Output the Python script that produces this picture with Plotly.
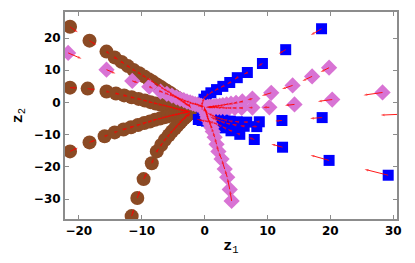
import plotly.graph_objects as go

# ---------------- data ----------------
# brown trajectories
BROWN_A_X = [-21.4, -18.3, -15.6, -14.3, -13.2, -12.2, -11.3, -10.4, -9.6, -8.9, -8.2, -7.6, -7.0, -6.5, -6.0, -5.5, -5.1, -4.7, -4.3, -4.0, -3.7, -3.4, -3.1, -2.9, -2.7, -2.5, -2.3, -2.2]
BROWN_A_Y = [23.5, 19.2, 15.8, 14.0, 12.6, 11.3, 10.1, 9.1, 8.1, 7.2, 6.4, 5.6, 4.9, 4.2, 3.6, 3.0, 2.4, 1.9, 1.4, 1.0, 0.6, 0.2, -0.2, -0.5, -0.8, -1.1, -1.4, -1.7]
BROWN_B_X = [-21.4, -18.6, -15.6, -14.1, -12.8, -11.6, -10.5, -9.5, -8.6, -7.8, -7.0, -6.3, -5.7, -5.1, -4.6, -4.1, -3.7, -3.3, -3.0, -2.7, -2.4]
BROWN_B_Y = [4.6, 4.3, 3.4, 2.8, 2.2, 1.6, 1.1, 0.6, 0.1, -0.3, -0.7, -1.0, -1.3, -1.6, -1.9, -2.1, -2.3, -2.5, -2.6, -2.7, -2.8]
BROWN_C_X = [-21.4, -18.3, -15.9, -14.3, -12.9, -11.7, -10.6, -9.6, -8.7, -7.9, -7.1, -6.4, -5.8, -5.2, -4.7, -4.2, -3.8, -3.4, -3.0, -2.7, -2.4]
BROWN_C_Y = [-15.2, -12.4, -10.5, -9.3, -8.4, -7.7, -7.0, -6.4, -5.9, -5.4, -5.0, -4.6, -4.3, -4.0, -3.8, -3.6, -3.4, -3.2, -3.1, -3.0, -2.9]
BROWN_D_X = [-11.6, -10.7, -9.7, -8.4, -7.6, -6.9, -6.3, -5.7, -5.2, -4.7, -4.3, -3.9, -3.6, -3.3, -3.0, -2.8, -2.6, -2.4, -2.3]
BROWN_D_Y = [-35.3, -29.7, -23.8, -18.9, -15.2, -13.2, -11.6, -10.2, -9.0, -8.0, -7.1, -6.3, -5.6, -5.0, -4.5, -4.1, -3.7, -3.4, -3.1]

# blue trajectories
BLUE_A_X = [18.6, 12.9, 9.2, 6.8, 5.2, 4.0, 2.9, 1.9, 1.0, 0.3, -0.1, -0.3, -0.4, -0.4]
BLUE_A_Y = [22.9, 16.4, 12.1, 9.3, 7.7, 6.2, 5.0, 4.0, 3.0, 2.0, 1.0, 0.0, -1.0, -2.0]
BLUE_B_X = [32.0, 18.7, 12.3, 8.7, 6.7, 5.2, 4.1, 3.2, 2.5, 1.9, 1.4, 1.0, 0.6]
BLUE_B_Y = [-3.6, -4.7, -5.6, -6.0, -6.1, -6.0, -5.8, -5.4, -5.0, -4.6, -4.2, -3.8, -3.4]
BLUE_C_X = [29.2, 19.8, 12.4, 7.9, 5.6, 4.2, 3.2, 2.4, 1.7, 1.0, 0.3, -0.4, -1.0]
BLUE_C_Y = [-22.6, -18.0, -13.9, -11.5, -9.9, -8.8, -7.9, -7.1, -6.5, -6.1, -5.8, -5.6, -5.3]
BLUE_D_X = [8.3, 6.3, 4.9, 3.8, 2.9, 2.2, 1.6, 1.1]
BLUE_D_Y = [-7.5, -7.4, -7.0, -6.6, -6.1, -5.6, -5.1, -4.6]

# violet trajectories
PINK_A_X = [-21.7, -15.6, -11.5, -8.8, -7.0, -6.0, -5.2, -4.5, -3.9, -3.3, -2.8, -2.3, -1.9, -1.5, -1.1, -0.8, -0.5, -0.2]
PINK_A_Y = [15.4, 10.2, 6.7, 4.9, 3.4, 2.7, 2.1, 1.6, 1.1, 0.7, 0.3, 0.0, -0.3, -0.5, -0.7, -0.9, -1.1, -1.2]
PINK_B_X = [4.3, 4.0, 3.6, 3.2, 2.7, 2.2, 1.9, 1.6, 1.3, 1.1, 0.9, 0.7, 0.5, 0.4, 0.3, 0.2, 0.1, 0.0, 0.0]
PINK_B_Y = [-30.6, -27.0, -23.2, -20.7, -17.6, -15.2, -13.0, -10.8, -9.0, -7.8, -6.7, -5.7, -4.8, -4.0, -3.3, -2.7, -2.2, -1.8, -1.5]
PINK_C_X = [19.8, 17.1, 14.0, 10.6, 7.6, 6.0, 5.0, 4.2, 3.5, 2.9, 2.4, 1.9, 1.5, 1.1, 0.8, 0.5]
PINK_C_Y = [10.8, 8.1, 5.3, 3.0, 1.2, 0.3, -0.1, -0.4, -0.6, -0.8, -1.0, -1.1, -1.2, -1.3, -1.4, -1.4]
PINK_D_X = [28.3, 20.3, 14.3, 10.3, 7.6, 5.9, 4.8, 3.9, 3.2, 2.6, 2.1, 1.6, 1.2, 0.8, 0.4]
PINK_D_Y = [3.1, 0.9, -0.6, -1.5, -1.6, -1.7, -1.7, -1.7, -1.7, -1.6, -1.6, -1.5, -1.5, -1.5, -1.5]

# relative length of the velocity arrows of each trajectory
ARROW_SCALE_BROWN = [0.4, 0.4, 0.4, 0.4]
ARROW_SCALE_BLUE = [0.3, 0.3, 0.4, 0.4]
ARROW_SCALE_PINK = [0.35, 0.9, 0.5, 0.38]

X_TICKS = [-20, -10, 0, 10, 20, 30]
Y_TICKS = [-30, -20, -10, 0, 10, 20]

# ---------------- styles ----------------
BROWN = "#8B4A24"
BLUE = "#0000FF"
PINK = "#D873D4"
RED = "#FF0000"
FRAME = "#8C8C8C"

groups = [
    (BROWN, "circle", 14, [(BROWN_A_X, BROWN_A_Y), (BROWN_B_X, BROWN_B_Y),
                           (BROWN_C_X, BROWN_C_Y), (BROWN_D_X, BROWN_D_Y)], ARROW_SCALE_BROWN),
    (BLUE, "square", 11, [(BLUE_A_X, BLUE_A_Y), (BLUE_B_X, BLUE_B_Y),
                          (BLUE_C_X, BLUE_C_Y), (BLUE_D_X, BLUE_D_Y)], ARROW_SCALE_BLUE),
    (PINK, "diamond", 12.5, [(PINK_A_X, PINK_A_Y), (PINK_B_X, PINK_B_Y),
                             (PINK_C_X, PINK_C_Y), (PINK_D_X, PINK_D_Y)], ARROW_SCALE_PINK),
]

fig = go.Figure()

ax, ay, asz = [], [], []
for color, symbol, size, arms, scales in groups:
    xs, ys = [], []
    for (px, py), k in zip(arms, scales):
        xs += list(px) + [None]
        ys += list(py) + [None]
        n = len(px)
        for i in range(n):
            if i < n - 1:
                dx, dy = px[i + 1] - px[i], py[i + 1] - py[i]
            else:
                dx, dy = 0.6 * (px[i] - px[i - 1]), 0.6 * (py[i] - py[i - 1])
            ax += [px[i], px[i] + k * dx, None]
            ay += [py[i], py[i] + k * dy, None]
            asz += [0, 4, 0]
    fig.add_trace(go.Scatter(
        x=xs, y=ys, mode="markers",
        marker=dict(color=color, symbol=symbol, size=size, line=dict(width=0)),
        hoverinfo="skip", showlegend=False,
    ))

fig.add_trace(go.Scatter(
    x=ax, y=ay, mode="lines+markers",
    line=dict(color=RED, width=0.9),
    marker=dict(symbol="arrow", size=asz, color=RED, angleref="previous", line=dict(width=0)),
    hoverinfo="skip", showlegend=False, connectgaps=False,
))

tick_font = dict(family="DejaVu Sans", size=12, color="black", weight="bold")
axis_common = dict(
    showline=True, linecolor=FRAME, linewidth=2, mirror="ticks",
    ticks="inside", ticklen=4, tickwidth=1, tickcolor=FRAME,
    showgrid=False, zeroline=False, tickfont=tick_font, automargin=False,
)

fig.update_layout(
    width=415, height=263,
    margin=dict(l=57, r=26, t=4, b=52),
    paper_bgcolor="white", plot_bgcolor="white",
    xaxis=dict(range=[-22.2, 30.6], tickvals=X_TICKS,
               title=dict(text="<b>z</b><sub>1</sub>", standoff=2,
                          font=dict(family="Liberation Mono", size=15, color="black")),
               **axis_common),
    yaxis=dict(range=[-36.2, 28.1], tickvals=Y_TICKS,
               title=dict(text="<b>z</b><sub>2</sub>", standoff=8,
                          font=dict(family="Liberation Mono", size=15, color="black")),
               **axis_common),
)

fig.write_html("out.html")
